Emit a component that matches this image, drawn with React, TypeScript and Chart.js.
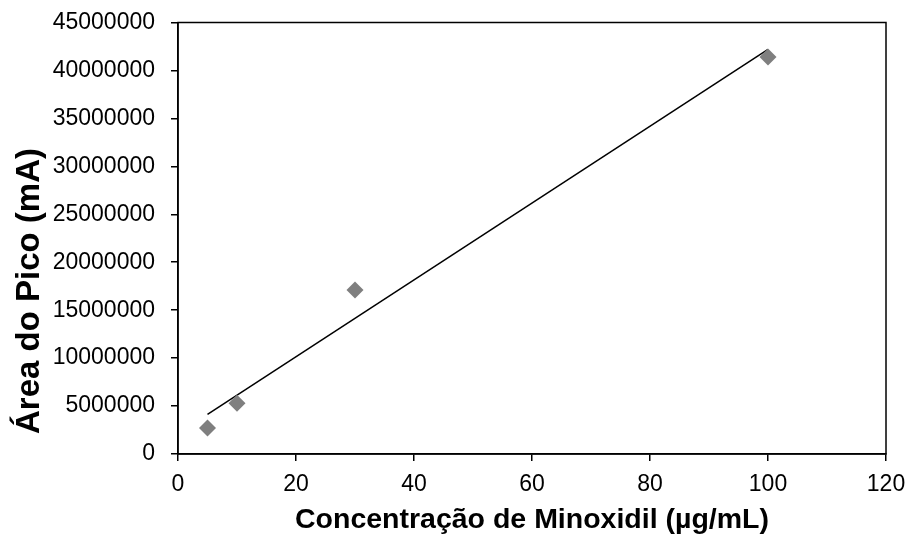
import React, { useEffect, useRef } from "react";
import { Chart, registerables } from "chart.js";

Chart.register(...registerables);

const concentrations = [5, 10, 30, 100];
const peakAreas = [2700000, 5300000, 17100000, 41400000];
const trendX = [5, 100];
const trendY = [4140000, 42200000];
const xTitle = "Concentração de Minoxidil (µg/mL)";
const yTitle = "Área do Pico (mA)";

const FONT = "'Liberation Sans', Arial, sans-serif";

const framePlugin = {
  id: "frame",
  afterDraw(chart: any) {
    const { ctx, chartArea } = chart;
    ctx.save();
    ctx.strokeStyle = "#000";
    ctx.lineWidth = 1.5;
    ctx.strokeRect(chartArea.left, chartArea.top, chartArea.right - chartArea.left, chartArea.bottom - chartArea.top);
    // y title
    ctx.translate(30, 291);
    ctx.rotate(-Math.PI / 2);
    ctx.font = `bold 33px ${FONT}`;
    ctx.fillStyle = "#000";
    ctx.textAlign = "center";
    ctx.textBaseline = "middle";
    ctx.fillText(yTitle, 0, 0);
    ctx.restore();
  },
};

export default function App() {
  const ref = useRef<HTMLCanvasElement>(null);
  useEffect(() => {
    document.body.style.margin = "0";
    const c = new Chart(ref.current!, {
      type: "scatter",
      data: {
        datasets: [
          {
            label: "trend",
            type: "line",
            data: trendX.map((x, i) => ({ x, y: trendY[i] })),
            borderColor: "#000",
            borderWidth: 1.5,
            pointRadius: 0,
            showLine: true,
            order: 2,
          },
          {
            label: "data",
            data: concentrations.map((x, i) => ({ x, y: peakAreas[i] })),
            pointStyle: "rectRot",
            pointRadius: 8.5,
            backgroundColor: "#7f7f7f",
            borderColor: "#7f7f7f",
            borderWidth: 0,
            order: 1,
          },
        ],
      },
      options: {
        animation: false,
        responsive: false,
        layout: { padding: { top: 22.5, right: 24, left: 0, bottom: 0 } },
        plugins: { legend: { display: false }, tooltip: { enabled: false } },
        scales: {
          x: {
            type: "linear",
            min: 0,
            max: 120,
            ticks: { stepSize: 20, color: "#000", font: { family: FONT, size: 23 }, padding: 10, callback: (v: any) => String(v) },
            grid: { drawOnChartArea: false, drawTicks: true, tickLength: 7, color: "#000", lineWidth: 1.5 },
            border: { display: true, color: "#000", width: 1.5 },
            title: { display: true, text: xTitle, color: "#000", font: { family: FONT, size: 28.5, weight: "bold" }, padding: { top: 2, bottom: 0 } },
            afterFit: (s: any) => { s.height = 83; s.paddingLeft = 0; s.paddingRight = 0; },
          },
          y: {
            type: "linear",
            min: 0,
            max: 45000000,
            ticks: { stepSize: 5000000, color: "#000", font: { family: FONT, size: 23 }, padding: 16, callback: (v: any) => String(v) },
            grid: { drawOnChartArea: false, drawTicks: true, tickLength: 7, color: "#000", lineWidth: 1.5 },
            border: { display: true, color: "#000", width: 1.5 },
            afterFit: (s: any) => { s.width = 178; s.paddingTop = 0; s.paddingBottom = 0; },
          },
        },
      },
      plugins: [framePlugin],
    });
    return () => c.destroy();
  }, []);
  return (
    <div style={{ position: "fixed", left: 0, top: 0, width: 910, height: 537, background: "#fff" }}>
      <canvas ref={ref} width={910} height={537} style={{ width: 910, height: 537 }} />
    </div>
  );
}
